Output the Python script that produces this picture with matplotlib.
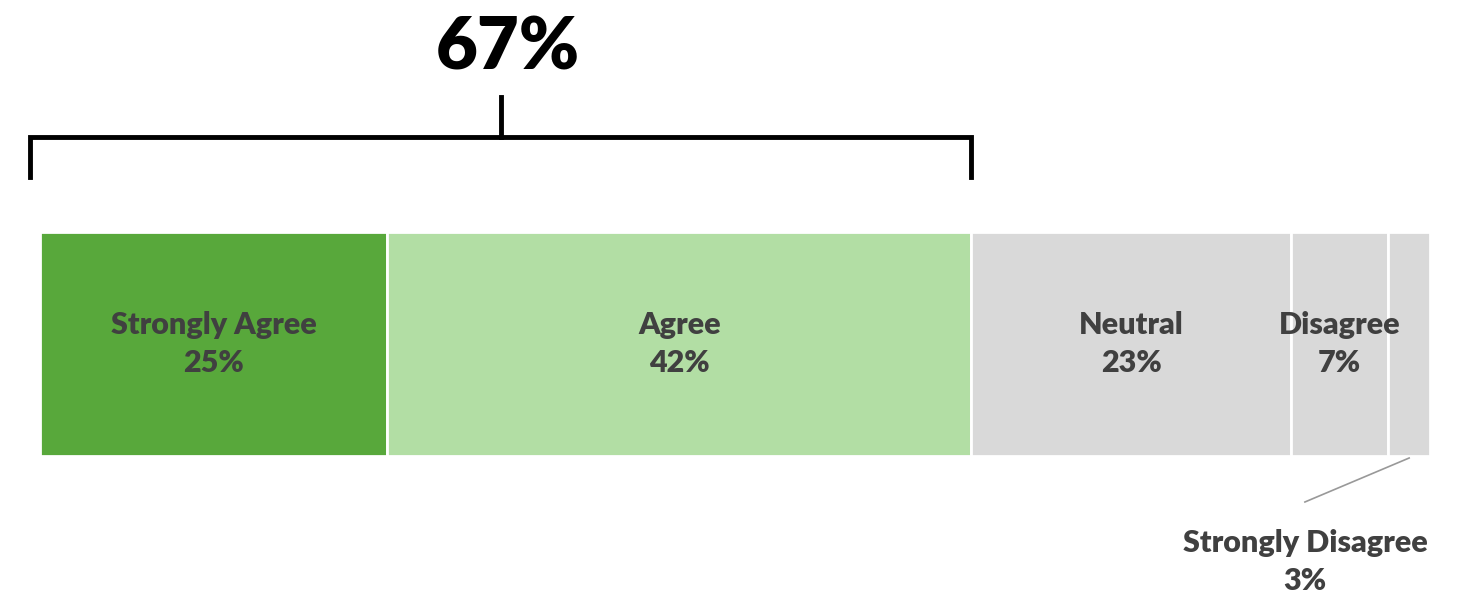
import matplotlib.pyplot as plt

categories = ["Strongly Agree", "Agree", "Neutral", "Disagree", "Strongly Disagree"]
values = [25, 42, 23, 7, 3]
colors = ["#58a83b", "#b2dea4", "#d9d9d9", "#d9d9d9", "#d9d9d9"]
agree_total = 67

font = ["Lato", "DejaVu Sans"]
text_color = "#404040"

fig = plt.figure(figsize=(14.75, 5.94), dpi=100)
ax = fig.add_axes([0, 0, 1, 1])
ax.axis("off")

# x: 0..100 spans pixels 40..1430, y in pixels (top = 0)
px = 13.9
ax.set_xlim(-40 / px, 100 + 45 / px)
ax.set_ylim(594, 0)

left = 0
for cat, val, col in zip(categories, values, colors):
    ax.barh(344, val, left=left, height=224, color=col, edgecolor="white", linewidth=2)
    mid = left + val / 2
    if val >= 5:
        ax.text(mid, 344, f"{cat}\n{val}%", ha="center", va="center", fontsize=22,
                fontweight="heavy", color=text_color, family=font, linespacing=1.45)
    else:
        ax.plot([mid, mid - 7.5], [458, 502], color="#999999", lw=1.2)
        ax.text(mid - 7.5, 562, f"{cat}\n{val}%", ha="center", va="center", fontsize=22,
                fontweight="heavy", color=text_color, family=font, linespacing=1.45)
    left += val

# bracket over agree share
b0 = -10 / px
b1 = agree_total
bmid = (b0 + b1) / 2
ax.plot([b0, b0, b1, b1], [177, 137, 137, 177], color="black", lw=3.5,
        solid_joinstyle="miter")
ax.plot([bmid, bmid], [137, 97], color="black", lw=3.5)
ax.text(bmid + 0.5, 48, f"{agree_total}%", ha="center", va="center", fontsize=52,
        fontweight="heavy", color="black", family=font)

fig.savefig("out.png", dpi=100)
